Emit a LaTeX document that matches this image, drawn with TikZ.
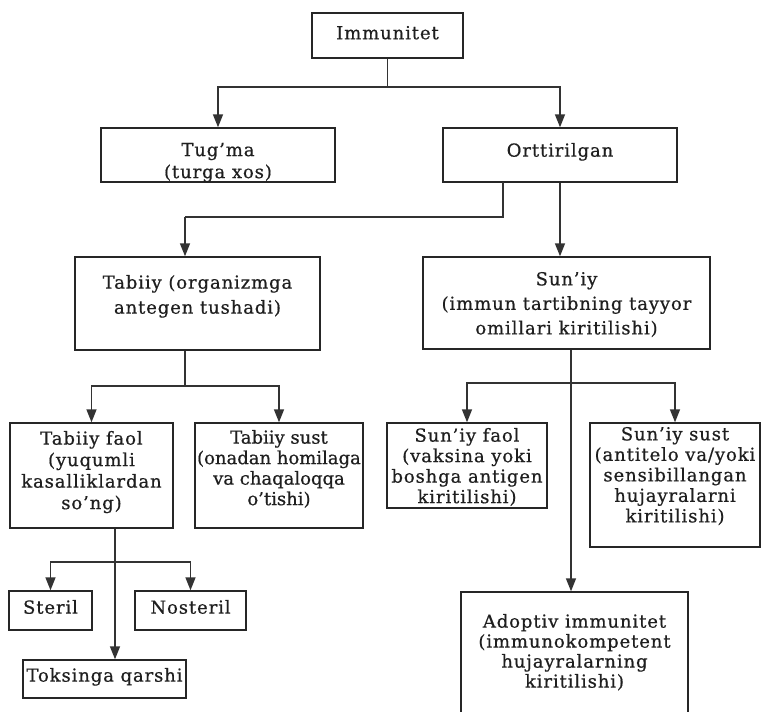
\documentclass[tikz,border=0pt]{standalone}
\usepackage{fontspec}
\setmainfont[LetterSpace=5,FakeBold=0.6]{DejaVu Serif}
\usetikzlibrary{arrows.meta}
% box text: width, height, top offset, baselineskip, text
\newcommand\bxtext[5]{\parbox[c][#2][t]{#1}{\centering\fontsize{18}{#4}\selectfont\vspace*{#3}#5}}
\begin{document}
\begin{tikzpicture}[x=1pt,y=-1pt,
  box/.style={draw=black!85,line width=1.4pt,inner sep=0pt,text=black!88},
  conn/.style={draw=black!80,line width=1.4pt},
  arr/.style={conn,-{Triangle[length=13pt,width=10pt]}}]
\useasboundingbox (0,0) rectangle (761,712);
\clip (0,0) rectangle (761,712);
\fill[white] (0,0) rectangle (761,712);
% boxes
\node[box] (imm) at (387.5,35.5) {\bxtext{151pt}{45pt}{13pt}{21pt}{Immunitet}};
\node[box] (tug) at (218,155) {\bxtext{234pt}{54pt}{15pt}{22pt}{Tug'ma\\(turga xos)}};
\node[box] (ort) at (560,155) {\bxtext{234pt}{54pt}{15pt}{22pt}{Orttirilgan}};
\node[box] (tab) at (197.5,303.5) {\bxtext{245pt}{93pt}{18pt}{25pt}{Tabiiy (organizmga\\antegen tushadi)}};
\node[box] (sun) at (566.5,303) {\bxtext{287pt}{92pt}{15pt}{24.5pt}{Sun'iy\\(immun tartibning tayyor\\omillari kiritilishi)}};
\node[box] (tfa) at (91.5,475.5) {\bxtext{163pt}{105pt}{8pt}{21.5pt}{Tabiiy faol\\(yuqumli\\kasalliklardan\\so'ng)}};
\node[box] (tsu) at (279,475.5) {\bxtext{168pt}{105pt}{7pt}{20.5pt}{\addfontfeatures{LetterSpace=0}Tabiiy sust\\(onadan homilaga\\va chaqaloqqa\\o'tishi)}};
\node[box] (sfa) at (467,465.5) {\bxtext{160pt}{85pt}{5pt}{20.5pt}{Sun'iy faol\\(vaksina yoki\\boshga antigen\\kiritilishi)}};
\node[box] (ssu) at (675,485) {\bxtext{170pt}{124pt}{4pt}{20.5pt}{Sun'iy sust\\(antitelo va/yoki\\sensibillangan\\hujayralarni\\kiritilishi)}};
\node[box] (ado) at (574.5,662) {\bxtext{227pt}{140pt}{22pt}{20pt}{Adoptiv immunitet\\(immunokompetent\\hujayralarning\\kiritilishi)}};
\node[box] (ste) at (50.5,610.5) {\bxtext{83pt}{39pt}{9pt}{20pt}{Steril}};
\node[box] (nos) at (190.5,610.5) {\bxtext{111pt}{39pt}{9pt}{20pt}{Nosteril}};
\node[box] (tok) at (104.5,679) {\bxtext{163pt}{38pt}{8pt}{20pt}{Toksinga qarshi}};
% junction coordinates
\coordinate (j1) at (387.5,87);
\coordinate (o2) at (503,182);
\coordinate (j2) at (185,217);
\coordinate (j3) at (185,386);
\coordinate (j4) at (571,383);
\coordinate (j5) at (115,562);
% connectors
\draw[conn] (imm.south) -- (j1);
\draw[arr] (j1) -| (tug.north);
\draw[arr] (j1) -| (ort.north);
\draw[arr] (ort.south) -- (ort.south |- sun.north);
\draw[conn] (o2) |- (j2);
\draw[arr] (j2) -- (j2 |- tab.north);
\draw[conn] (j3 |- tab.south) -- (j3);
\draw[arr] (j3) -| (tfa.north);
\draw[arr] (j3) -| (tsu.north);
\draw[conn] (j4 |- sun.south) -- (j4);
\draw[arr] (j4) -| (sfa.north);
\draw[arr] (j4) -| (ssu.north);
\draw[arr] (j4) -- (j4 |- ado.north);
\fill[black!80] (j4) circle (1.8pt);
\draw[conn] (j5 |- tfa.south) -- (j5);
\draw[arr] (j5) -| (ste.north);
\draw[arr] (j5) -| (nos.north);
\draw[arr] (j5) -- (j5 |- tok.north);
\end{tikzpicture}
\end{document}
